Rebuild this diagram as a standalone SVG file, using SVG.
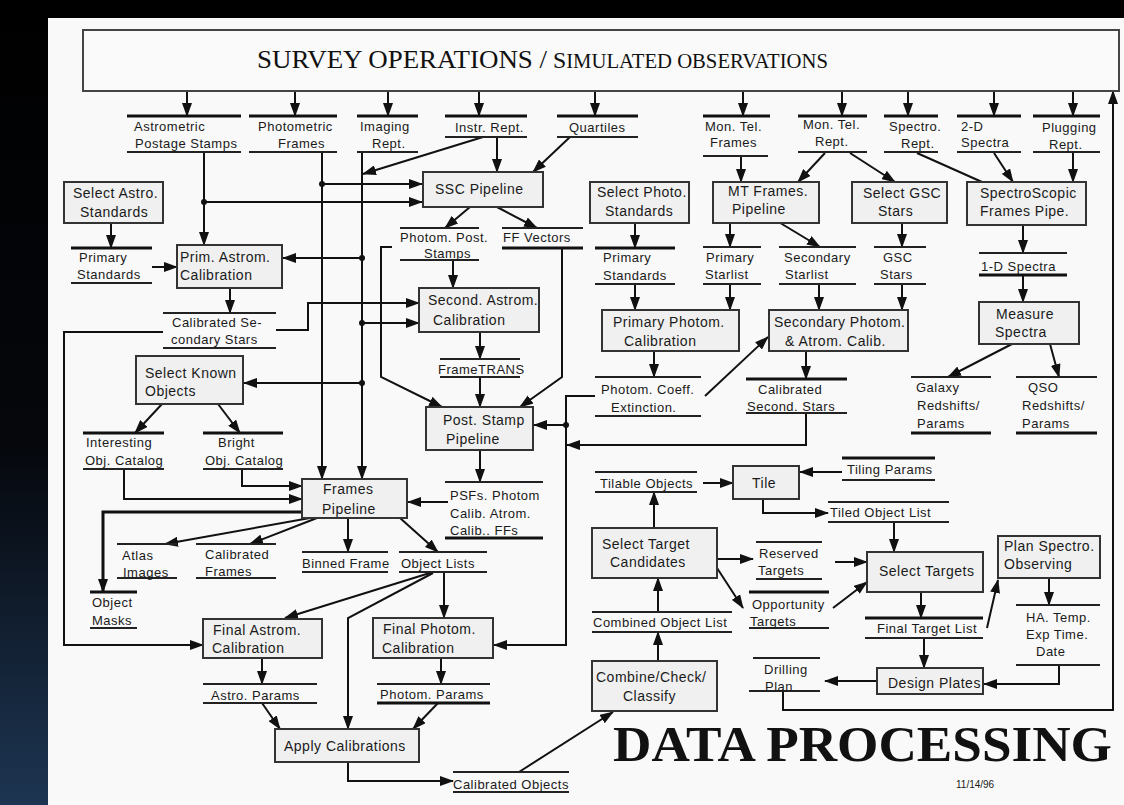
<svg xmlns="http://www.w3.org/2000/svg" width="1124" height="805" viewBox="0 0 1124 805">
<style>
.bx{fill:#f0f0f0;stroke:#333;stroke-width:2}
.t{font-family:"Liberation Sans",Arial,sans-serif;font-size:13px;letter-spacing:0.5px;fill:#1a1a1a}
.tb{font-size:14px}
.lk{stroke:#111;stroke-width:3}
.ln{stroke:#222;stroke-width:1.8}
.c{fill:none;stroke:#111;stroke-width:2}
.a{marker-end:url(#ah)}
.dot{fill:#111}
.ttl{font-family:"Liberation Serif","Times New Roman",serif;fill:#111}
</style>
<defs>
<marker id="ah" markerUnits="userSpaceOnUse" markerWidth="14" markerHeight="10" refX="13" refY="5" orient="auto"><path d="M0,0 L14,5 L0,10 z" fill="#111"/></marker>
<linearGradient id="side" x1="0" y1="0" x2="0" y2="1"><stop offset="0" stop-color="#000"/><stop offset="0.55" stop-color="#05070c"/><stop offset="1" stop-color="#1d3552"/></linearGradient>
</defs>
<rect x="0" y="0" width="1124" height="805" fill="#000"/>
<rect x="0" y="0" width="48" height="805" fill="url(#side)"/>
<rect x="48" y="18" width="1076" height="787" fill="#f9f9f9"/>

<g id="connectors">
<path class="c a" d="M187,91 V116"/>
<path class="c a" d="M295,91 V116"/>
<path class="c a" d="M388,91 V116"/>
<path class="c a" d="M479,91 V116"/>
<path class="c a" d="M595,91 V116"/>
<path class="c a" d="M743,91 V116"/>
<path class="c a" d="M842,91 V116"/>
<path class="c a" d="M908,91 V116"/>
<path class="c a" d="M994,91 V116"/>
<path class="c a" d="M1073,91 V116"/>
<path class="c a" d="M783,691 V710 H1113 V91"/>
<path class="c a" d="M204,152 V245"/>
<path class="c a" d="M204,202 H422"/>
<path class="c a" d="M322,152 V479"/>
<path class="c a" d="M322,184 H422"/>
<path class="c a" d="M362,152 V479"/>
<path class="c a" d="M362,258 H283"/>
<path class="c a" d="M362,323 H419"/>
<path class="c a" d="M362,383 H244"/>
<path class="c a" d="M483,137 L363,174"/>
<path class="c a" d="M497,137 V172"/>
<path class="c a" d="M570,137 L533,172"/>
<path class="c a" d="M470,207 L445,228"/>
<path class="c a" d="M497,207 L537,228"/>
<path class="c a" d="M453,260 V288"/>
<path class="c a" d="M392,247 H381 V377 L442,407"/>
<path class="c a" d="M562,248 V377 L520,407"/>
<path class="c a" d="M111,223 V248"/>
<path class="c a" d="M152,267 H177"/>
<path class="c a" d="M230,288 V313"/>
<path class="c a" d="M276,330 H308 V303 H419"/>
<path class="c a" d="M163,332 H64 V645 H203"/>
<path class="c a" d="M480,332 V359"/>
<path class="c a" d="M480,377 V407"/>
<path class="c a" d="M162,404 L135,433"/>
<path class="c a" d="M218,404 L240,433"/>
<path class="c a" d="M124,469 V499 H302"/>
<path class="c a" d="M242,469 V486 H302"/>
<path class="c a" d="M480,450 V482"/>
<path class="c a" d="M448,502 H408"/>
<path class="c a" d="M595,396 H566 V645 H494"/>
<path class="c a" d="M566,425 H534"/>
<path class="c a" d="M806,413 V445 H567"/>
<path class="c a" d="M302,512 H103 V592" style="stroke-width:3"/>
<path class="c a" d="M310,518 L165,544"/>
<path class="c a" d="M317,518 L250,544"/>
<path class="c a" d="M348,518 V552"/>
<path class="c a" d="M400,518 L438,552"/>
<path class="c a" d="M444,572 V618"/>
<path class="c a" d="M433,572 L285,618"/>
<path class="c a" d="M433,573 L348,618 V729"/>
<path class="c a" d="M262,658 V684"/>
<path class="c a" d="M262,703 L280,729"/>
<path class="c a" d="M441,658 V684"/>
<path class="c a" d="M438,703 L413,729"/>
<path class="c a" d="M348,762 V781 H453"/>
<path class="c a" d="M519,772 L613,712"/>
<path class="c a" d="M635,223 V248"/>
<path class="c a" d="M635,284 V310"/>
<path class="c a" d="M741,156 V182"/>
<path class="c a" d="M825,153 L798,182"/>
<path class="c a" d="M850,153 L895,182"/>
<path class="c a" d="M730,223 V247"/>
<path class="c a" d="M777,221 L820,247"/>
<path class="c a" d="M730,284 V310"/>
<path class="c a" d="M819,284 V310"/>
<path class="c a" d="M902,223 V247"/>
<path class="c a" d="M902,284 V310"/>
<path class="c" d="M917,153 L982,182"/>
<path class="c a" d="M994,153 L1013,182"/>
<path class="c a" d="M1073,152 V182"/>
<path class="c a" d="M1023,225 V253"/>
<path class="c a" d="M1023,275 V302"/>
<path class="c a" d="M1012,344 L948,377"/>
<path class="c a" d="M1050,344 L1059,377"/>
<path class="c a" d="M654,351 V377"/>
<path class="c a" d="M705,396 L768,337"/>
<path class="c a" d="M806,351 V379"/>
<path class="c a" d="M703,483 H733"/>
<path class="c a" d="M842,472 H800"/>
<path class="c a" d="M763,499 V513 H828"/>
<path class="c a" d="M894,522 V552"/>
<path class="c a" d="M654,528 V492"/>
<path class="c a" d="M717,559 H753"/>
<path class="c a" d="M717,568 L743,608"/>
<path class="c a" d="M835,562 H867"/>
<path class="c a" d="M833,608 L867,582"/>
<path class="c a" d="M658,612 V578"/>
<path class="c a" d="M658,661 V632"/>
<path class="c a" d="M921,592 V618"/>
<path class="c a" d="M924,638 V668"/>
<path class="c a" d="M987,628 L998,580"/>
<path class="c a" d="M1049,578 V605"/>
<path class="c a" d="M1059,665 V684 H984"/>
<path class="c a" d="M877,681 H825"/>
<circle class="dot" cx="204" cy="202" r="3"/>
<circle class="dot" cx="322" cy="184" r="3"/>
<circle class="dot" cx="362" cy="258" r="3"/>
<circle class="dot" cx="362" cy="323" r="3"/>
<circle class="dot" cx="362" cy="383" r="3"/>
<circle class="dot" cx="566" cy="425" r="3"/>
</g>

<g id="survey-operations">
<rect x="83" y="30" width="1036" height="61" fill="#fafafa" stroke="#444" stroke-width="2"/>
<text class="ttl" x="257" y="68" font-size="25" textLength="290" lengthAdjust="spacingAndGlyphs">SURVEY OPERATIONS /</text>
<text class="ttl" x="553" y="68" font-size="20" textLength="275" lengthAdjust="spacingAndGlyphs"><tspan font-size="23">S</tspan>IMULATED OBSERVATIONS</text>
</g>

<g id="astrometric-postage-stamps"><line class="lk" x1="127" y1="116" x2="241" y2="116"/><line class="ln" x1="127" y1="152" x2="241" y2="152"/><text class="t" x="134" y="131">Astrometric</text><text class="t" x="135" y="148">Postage Stamps</text></g>
<g id="photometric-frames"><line class="lk" x1="249" y1="116" x2="337" y2="116"/><line class="ln" x1="249" y1="152" x2="337" y2="152"/><text class="t" x="258" y="131">Photometric</text><text class="t" x="278" y="148">Frames</text></g>
<g id="imaging-rept"><line class="lk" x1="357" y1="116" x2="418" y2="116"/><line class="ln" x1="357" y1="152" x2="418" y2="152"/><text class="t" x="360" y="131">Imaging</text><text class="t" x="372" y="148">Rept.</text></g>
<g id="instr-rept"><line class="lk" x1="445" y1="116" x2="527" y2="116"/><line class="ln" x1="445" y1="137" x2="527" y2="137"/><text class="t" x="455" y="132">Instr. Rept.</text></g>
<g id="quartiles"><line class="lk" x1="557" y1="116" x2="638" y2="116"/><line class="ln" x1="557" y1="137" x2="638" y2="137"/><text class="t" x="569" y="132">Quartiles</text></g>
<g id="mon-tel-frames"><line class="lk" x1="703" y1="116" x2="770" y2="116"/><line class="ln" x1="703" y1="156" x2="768" y2="156"/><text class="t" x="705" y="131">Mon. Tel.</text><text class="t" x="710" y="147">Frames</text></g>
<g id="mon-tel-rept"><line class="lk" x1="798" y1="116" x2="867" y2="116"/><line class="ln" x1="798" y1="152" x2="867" y2="152"/><text class="t" x="803" y="129">Mon. Tel.</text><text class="t" x="815" y="146">Rept.</text></g>
<g id="spectro-rept"><line class="lk" x1="884" y1="116" x2="938" y2="116"/><line class="ln" x1="884" y1="152" x2="938" y2="152"/><text class="t" x="889" y="131">Spectro.</text><text class="t" x="901" y="148">Rept.</text></g>
<g id="two-d-spectra"><line class="lk" x1="957" y1="116" x2="1021" y2="116"/><line class="ln" x1="957" y1="152" x2="1021" y2="152"/><text class="t" x="961" y="131">2-D</text><text class="t" x="961" y="147">Spectra</text></g>
<g id="plugging-rept"><line class="lk" x1="1033" y1="116" x2="1100" y2="116"/><line class="ln" x1="1033" y1="152" x2="1100" y2="152"/><text class="t" x="1042" y="132">Plugging</text><text class="t" x="1049" y="149">Rept.</text></g>

<g id="select-astro-standards"><rect class="bx" x="64" y="182" width="99" height="41"/><text class="t tb" x="73" y="198">Select Astro.</text><text class="t tb" x="80" y="217">Standards</text></g>
<g id="ssc-pipeline"><rect class="bx" x="423" y="172" width="120" height="35"/><text class="t tb" x="435" y="194">SSC Pipeline</text></g>
<g id="select-photo-standards"><rect class="bx" x="590" y="182" width="99" height="41"/><text class="t tb" x="597" y="197">Select Photo.</text><text class="t tb" x="605" y="216">Standards</text></g>
<g id="mt-frames-pipeline"><rect class="bx" x="713" y="182" width="106" height="41"/><text class="t tb" x="728" y="196">MT Frames.</text><text class="t tb" x="732" y="214">Pipeline</text></g>
<g id="select-gsc-stars"><rect class="bx" x="852" y="182" width="95" height="41"/><text class="t tb" x="863" y="198">Select GSC</text><text class="t tb" x="878" y="216">Stars</text></g>
<g id="spectroscopic-frames-pipe"><rect class="bx" x="967" y="182" width="119" height="43"/><text class="t tb" x="980" y="198">SpectroScopic</text><text class="t tb" x="980" y="216">Frames Pipe.</text></g>

<g id="primary-standards-astro"><line class="lk" x1="71" y1="248" x2="152" y2="248"/><line class="ln" x1="71" y1="283" x2="152" y2="283"/><text class="t" x="79" y="262">Primary</text><text class="t" x="77" y="279">Standards</text></g>
<g id="prim-astrom-calibration"><rect class="bx" x="177" y="245" width="105" height="43"/><text class="t tb" x="180" y="262">Prim. Astrom.</text><text class="t tb" x="180" y="280">Calibration</text></g>
<g id="photom-post-stamps"><line class="ln" x1="400" y1="228" x2="479" y2="228"/><line class="ln" x1="400" y1="260" x2="479" y2="260"/><text class="t" x="400" y="242">Photom. Post.</text><text class="t" x="424" y="258">Stamps</text></g>
<g id="ff-vectors"><line class="ln" x1="502" y1="228" x2="583" y2="228"/><line class="lk" x1="502" y1="248" x2="583" y2="248"/><text class="t" x="503" y="242">FF Vectors</text></g>
<g id="primary-standards-photo"><line class="lk" x1="595" y1="248" x2="675" y2="248"/><line class="ln" x1="595" y1="284" x2="675" y2="284"/><text class="t" x="603" y="262">Primary</text><text class="t" x="603" y="280">Standards</text></g>
<g id="primary-starlist"><line class="ln" x1="703" y1="247" x2="761" y2="247"/><line class="ln" x1="703" y1="284" x2="761" y2="284"/><text class="t" x="706" y="262">Primary</text><text class="t" x="705" y="279">Starlist</text></g>
<g id="secondary-starlist"><line class="ln" x1="779" y1="247" x2="856" y2="247"/><line class="ln" x1="779" y1="284" x2="856" y2="284"/><text class="t" x="784" y="262">Secondary</text><text class="t" x="785" y="279">Starlist</text></g>
<g id="gsc-stars"><line class="ln" x1="874" y1="247" x2="926" y2="247"/><line class="ln" x1="874" y1="284" x2="926" y2="284"/><text class="t" x="883" y="262">GSC</text><text class="t" x="880" y="279">Stars</text></g>
<g id="one-d-spectra"><line class="ln" x1="979" y1="253" x2="1067" y2="253"/><line class="lk" x1="979" y1="275" x2="1067" y2="275"/><text class="t" x="981" y="271">1-D Spectra</text></g>

<g id="calibrated-secondary-stars"><line class="ln" x1="163" y1="313" x2="276" y2="313"/><line class="ln" x1="163" y1="348" x2="276" y2="348"/><text class="t" x="172" y="327">Calibrated Se-</text><text class="t" x="171" y="344">condary Stars</text></g>
<g id="second-astrom-calibration"><rect class="bx" x="419" y="288" width="120" height="44"/><text class="t tb" x="428" y="305">Second. Astrom.</text><text class="t tb" x="433" y="325">Calibration</text></g>
<g id="primary-photom-calibration"><rect class="bx" x="602" y="310" width="137" height="41"/><text class="t tb" x="613" y="327">Primary Photom.</text><text class="t tb" x="624" y="346">Calibration</text></g>
<g id="secondary-photom-calib"><rect class="bx" x="769" y="310" width="139" height="41"/><text class="t tb" x="774" y="327">Secondary Photom.</text><text class="t tb" x="785" y="346">&amp; Atrom. Calib.</text></g>
<g id="measure-spectra"><rect class="bx" x="979" y="302" width="100" height="42"/><text class="t tb" x="996" y="319">Measure</text><text class="t tb" x="995" y="337">Spectra</text></g>
<g id="frametrans"><line class="ln" x1="440" y1="359" x2="520" y2="359"/><line class="ln" x1="440" y1="377" x2="520" y2="377"/><text class="t" x="438" y="374">FrameTRANS</text></g>
<g id="select-known-objects"><rect class="bx" x="136" y="356" width="107" height="48"/><text class="t tb" x="145" y="378">Select Known</text><text class="t tb" x="145" y="396">Objects</text></g>
<g id="photom-coeff-extinction"><line class="ln" x1="595" y1="377" x2="701" y2="377"/><line class="ln" x1="595" y1="416" x2="701" y2="416"/><text class="t" x="601" y="394">Photom. Coeff.</text><text class="t" x="611" y="412">Extinction.</text></g>
<g id="calibrated-second-stars"><line class="lk" x1="746" y1="379" x2="847" y2="379"/><line class="ln" x1="746" y1="413" x2="847" y2="413"/><text class="t" x="758" y="394">Calibrated</text><text class="t" x="747" y="411">Second. Stars</text></g>
<g id="galaxy-redshifts"><line class="ln" x1="911" y1="377" x2="991" y2="377"/><line class="lk" x1="911" y1="433" x2="991" y2="433"/><text class="t" x="916" y="392">Galaxy</text><text class="t" x="917" y="410">Redshifts/</text><text class="t" x="917" y="428">Params</text></g>
<g id="qso-redshifts"><line class="ln" x1="1016" y1="377" x2="1097" y2="377"/><line class="lk" x1="1016" y1="433" x2="1097" y2="433"/><text class="t" x="1028" y="392">QSO</text><text class="t" x="1022" y="410">Redshifts/</text><text class="t" x="1022" y="428">Params</text></g>
<g id="post-stamp-pipeline"><rect class="bx" x="426" y="407" width="107" height="43"/><text class="t tb" x="443" y="425">Post. Stamp</text><text class="t tb" x="446" y="444">Pipeline</text></g>
<g id="interesting-obj-catalog"><line class="lk" x1="83" y1="433" x2="164" y2="433"/><line class="ln" x1="83" y1="469" x2="164" y2="469"/><text class="t" x="86" y="447">Interesting</text><text class="t" x="85" y="465">Obj. Catalog</text></g>
<g id="bright-obj-catalog"><line class="lk" x1="203" y1="433" x2="283" y2="433"/><line class="ln" x1="203" y1="469" x2="283" y2="469"/><text class="t" x="218" y="447">Bright</text><text class="t" x="205" y="465">Obj. Catalog</text></g>
<g id="tilable-objects"><line class="ln" x1="595" y1="472" x2="697" y2="472"/><line class="ln" x1="595" y1="492" x2="697" y2="492"/><text class="t" x="600" y="488">Tilable Objects</text></g>
<g id="tile"><rect class="bx" x="733" y="466" width="66" height="33"/><text class="t tb" x="752" y="488">Tile</text></g>
<g id="tiling-params"><line class="lk" x1="842" y1="458" x2="935" y2="458"/><line class="ln" x1="842" y1="480" x2="935" y2="480"/><text class="t" x="847" y="474">Tiling Params</text></g>
<g id="tiled-object-list"><line class="ln" x1="828" y1="502" x2="949" y2="502"/><line class="ln" x1="828" y1="522" x2="949" y2="522"/><text class="t" x="830" y="517">Tiled  Object List</text></g>
<g id="frames-pipeline"><rect class="bx" x="302" y="479" width="105" height="39"/><text class="t tb" x="323" y="494">Frames</text><text class="t tb" x="322" y="514">Pipeline</text></g>
<g id="psfs"><line class="ln" x1="445" y1="482" x2="543" y2="482"/><line class="lk" x1="445" y1="538" x2="543" y2="538"/><text class="t" x="450" y="500">PSFs. Photom</text><text class="t" x="450" y="518">Calib. Atrom.</text><text class="t" x="450" y="535">Calib.. FFs</text></g>

<g id="atlas-images"><line class="ln" x1="117" y1="544" x2="177" y2="544"/><line class="ln" x1="117" y1="578" x2="177" y2="578"/><text class="t" x="122" y="560">Atlas</text><text class="t" x="123" y="577">Images</text></g>
<g id="calibrated-frames"><line class="ln" x1="196" y1="544" x2="276" y2="544"/><line class="ln" x1="196" y1="578" x2="276" y2="578"/><text class="t" x="205" y="559">Calibrated</text><text class="t" x="205" y="576">Frames</text></g>
<g id="binned-frame"><line class="ln" x1="302" y1="552" x2="388" y2="552"/><line class="ln" x1="302" y1="572" x2="388" y2="572"/><text class="t" x="302" y="568">Binned Frame</text></g>
<g id="object-lists"><line class="ln" x1="399" y1="552" x2="487" y2="552"/><line class="ln" x1="399" y1="572" x2="487" y2="572"/><text class="t" x="401" y="568">Object Lists</text></g>
<g id="select-target-candidates"><rect class="bx" x="592" y="528" width="125" height="50"/><text class="t tb" x="602" y="549">Select Target</text><text class="t tb" x="610" y="567">Candidates</text></g>
<g id="reserved-targets"><line class="ln" x1="756" y1="542" x2="822" y2="542"/><line class="ln" x1="756" y1="579" x2="822" y2="579"/><text class="t" x="759" y="558">Reserved</text><text class="t" x="758" y="575">Targets</text></g>
<g id="select-targets"><rect class="bx" x="867" y="552" width="116" height="40"/><text class="t tb" x="879" y="576">Select Targets</text></g>
<g id="plan-spectro-observing"><rect class="bx" x="998" y="536" width="102" height="42"/><text class="t tb" x="1004" y="551">Plan Spectro.</text><text class="t tb" x="1004" y="569">Observing</text></g>
<g id="object-masks"><line class="lk" x1="90" y1="592" x2="137" y2="592"/><line class="ln" x1="90" y1="628" x2="137" y2="628"/><text class="t" x="92" y="607">Object</text><text class="t" x="92" y="625">Masks</text></g>
<g id="opportunity-targets"><line class="lk" x1="749" y1="592" x2="829" y2="592"/><line class="ln" x1="749" y1="628" x2="829" y2="628"/><text class="t" x="752" y="609">Opportunity</text><text class="t" x="750" y="626">Targets</text></g>
<g id="combined-object-list"><line class="ln" x1="592" y1="612" x2="732" y2="612"/><line class="ln" x1="592" y1="632" x2="732" y2="632"/><text class="t" x="593" y="627">Combined  Object List</text></g>
<g id="final-target-list"><line class="lk" x1="865" y1="618" x2="983" y2="618"/><line class="ln" x1="865" y1="638" x2="983" y2="638"/><text class="t" x="877" y="633">Final Target List</text></g>
<g id="ha-temp"><line class="ln" x1="1016" y1="605" x2="1100" y2="605"/><line class="ln" x1="1016" y1="665" x2="1100" y2="665"/><text class="t" x="1026" y="622">HA. Temp.</text><text class="t" x="1026" y="639">Exp Time.</text><text class="t" x="1036" y="656">Date</text></g>
<g id="final-astrom-calibration"><rect class="bx" x="203" y="619" width="119" height="39"/><text class="t tb" x="213" y="635">Final Astrom.</text><text class="t tb" x="212" y="653">Calibration</text></g>
<g id="final-photom-calibration"><rect class="bx" x="373" y="618" width="120" height="40"/><text class="t tb" x="383" y="634">Final  Photom.</text><text class="t tb" x="382" y="653">Calibration</text></g>
<g id="drilling-plan"><line class="ln" x1="753" y1="658" x2="820" y2="658"/><line class="ln" x1="749" y1="691" x2="820" y2="691"/><text class="t" x="764" y="674">Drilling</text><text class="t" x="765" y="691">Plan</text></g>
<g id="combine-check-classify"><rect class="bx" x="592" y="661" width="125" height="50"/><text class="t tb" x="596" y="682">Combine/Check/</text><text class="t tb" x="623" y="701">Classify</text></g>
<g id="design-plates"><rect class="bx" x="877" y="668" width="106" height="26"/><text class="t tb" x="888" y="688">Design  Plates</text></g>
<g id="astro-params"><line class="ln" x1="203" y1="684" x2="317" y2="684"/><line class="ln" x1="203" y1="703" x2="317" y2="703"/><text class="t" x="211" y="700">Astro. Params</text></g>
<g id="photom-params"><line class="ln" x1="377" y1="684" x2="490" y2="684"/><line class="lk" x1="377" y1="703" x2="490" y2="703"/><text class="t" x="380" y="699">Photom. Params</text></g>
<g id="apply-calibrations"><rect class="bx" x="275" y="729" width="144" height="33"/><text class="t tb" x="284" y="751">Apply Calibrations</text></g>
<g id="calibrated-objects"><line class="ln" x1="453" y1="772" x2="569" y2="772"/><line class="ln" x1="453" y1="792" x2="569" y2="792"/><text class="t" x="453" y="789">Calibrated Objects</text></g>

<g id="data-processing-title">
<text class="ttl" x="613" y="761" font-size="50" font-weight="bold" textLength="499" lengthAdjust="spacingAndGlyphs">DATA PROCESSING</text>
<text class="t" x="956" y="788" style="font-size:10px;letter-spacing:0">11/14/96</text>
</g>
</svg>
